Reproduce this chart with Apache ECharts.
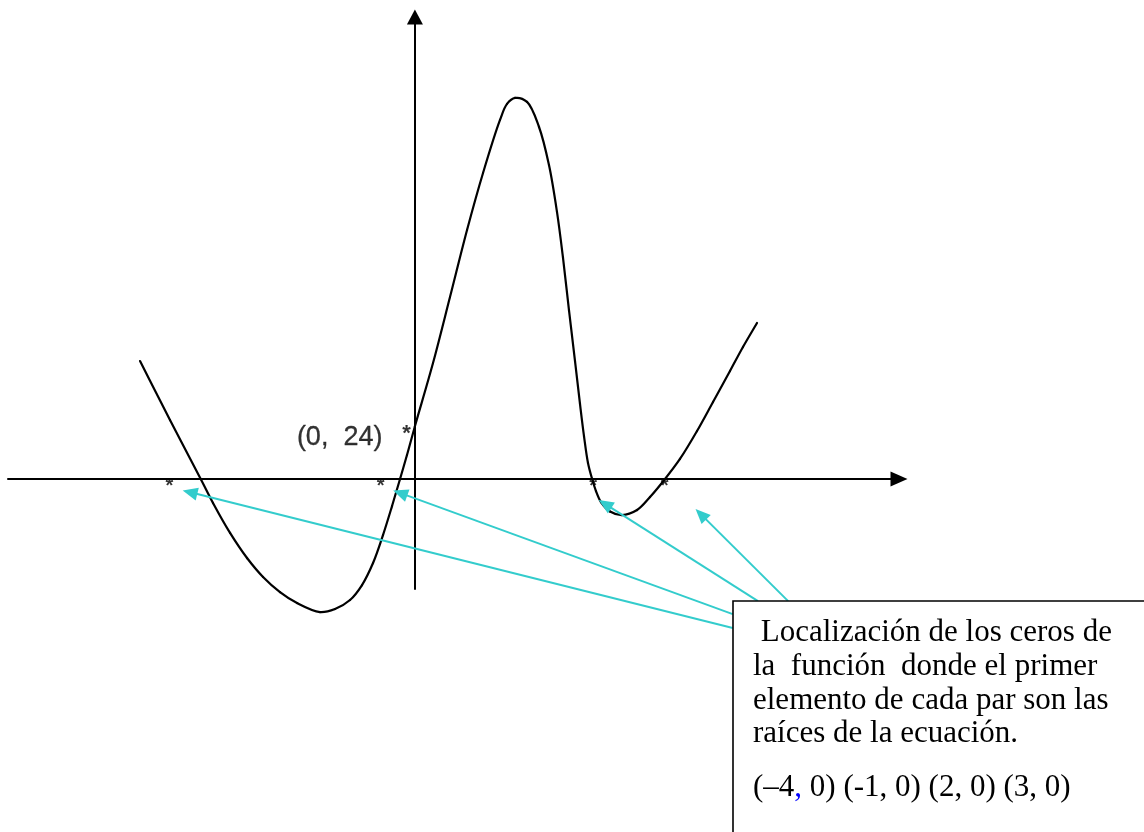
<!DOCTYPE html>
<html>
<head>
<meta charset="utf-8">
<script src="https://cdn.jsdelivr.net/npm/echarts@6/dist/echarts.min.js"></script>
<style>
  html, body { margin: 0; padding: 0; background: #ffffff; }
  #chart { width: 1144px; height: 832px; }
</style>
</head>
<body>
<div id="chart"></div>
<script>
// Hand-sketched curve of the quartic, traced as (x, y) pairs
const curveX = [-3.918, -3.491, -3.053, -2.878, -2.635, -2.393, -2.165, -1.923, -1.68, -1.353,
  -1.139, -0.925, -0.754, -0.597, -0.455, -0.326, -0.212, -0.113, 0, 0.258, 0.5, 0.743, 0.971,
  1.213, 1.313, 1.427, 1.598, 1.769, 1.911, 2.025, 2.111, 2.196, 2.282, 2.353, 2.41, 2.467,
  2.524, 2.581, 2.652, 2.781, 2.952, 3.166, 3.351, 3.565, 3.778, 4.021, 4.249, 4.491, 4.676, 4.876];
const curveY = [53.6, 26.8, 0, -10.9, -24.5, -35.9, -44.5, -51.4, -56.4, -60.5,
  -59.1, -55.0, -48.2, -38.2, -25.5, -12.3, 0, 10.9, 24, 52.7, 82.7, 113.2, 139.1,
  163.2, 170.5, 173.2, 171.4, 160.0, 142.7, 121.4, 100.5, 76.8, 53.6, 34.1, 19.5, 7.3,
  0.2, -5.5, -10.5, -14.8, -16.4, -14.1, -8.2, 0, 9.1, 21.8, 35.0, 49.1, 60.0, 70.9];

// Star marks drawn on the x axis where the zeros are located
const zeroMarkX = [-3.5, -0.49, 2.54, 3.56];

// y-intercept
const interceptPoint = [0, 24];
const interceptText = '(0,  24)';

// Pointer arrows from the note box towards the zeros: tail (x, y) and head (x, y)
const arrowTails = [[4.53, -67.7], [4.53, -61.4], [4.89, -55.5], [5.32, -55.5]];
const arrowHeads = [[-3.31, -5.2], [-0.31, -5.2], [2.62, -9.5], [4.0, -13.6]];

// Note text
const noteLines = [
  ' Localización de los ceros de',
  'la  función  donde el primer',
  'elemento de cada par son las',
  'raíces de la ecuación.'
];
const rootsLine = ['(–4', ',', ' 0) (-1, 0) (2, 0) (3, 0)'];

const chart = echarts.init(document.getElementById('chart'), null, { renderer: 'canvas' });

const X_MIN = -5.8, X_MAX = 6.9, Y_MIN = -50, Y_MAX = 210;
const INK = '#000000';
const ARROW = '#33CCCC';
const SERIF = '"Liberation Serif", "Times New Roman", serif';
const SANS = '"Liberation Sans", Arial, sans-serif';

// Centripetal Catmull-Rom control points for the segment p1 -> p2
function catmullRomControls(p0, p1, p2, p3) {
  const d = (a, b) => Math.max(Math.sqrt(Math.hypot(b[0] - a[0], b[1] - a[1])), 1e-6);
  const d1 = d(p0, p1), d2 = d(p1, p2), d3 = d(p2, p3);
  const c1 = [0, 1].map(k =>
    (d1 * d1 * p2[k] - d2 * d2 * p0[k] + (2 * d1 * d1 + 3 * d1 * d2 + d2 * d2) * p1[k]) /
    (3 * d1 * (d1 + d2)));
  const c2 = [0, 1].map(k =>
    (d3 * d3 * p1[k] - d2 * d2 * p3[k] + (2 * d3 * d3 + 3 * d3 * d2 + d2 * d2) * p2[k]) /
    (3 * d3 * (d3 + d2)));
  return [c1, c2];
}

function renderCurveSegment(params, api) {
  const i = params.dataIndex;
  const n = curveX.length;
  if (i >= n - 1) return null;
  const pt = j => api.coord([curveX[j], curveY[j]]);
  const p1 = pt(i), p2 = pt(i + 1);
  const p0 = i > 0 ? pt(i - 1) : [2 * p1[0] - p2[0], 2 * p1[1] - p2[1]];
  const p3 = i + 2 < n ? pt(i + 2) : [2 * p2[0] - p1[0], 2 * p2[1] - p1[1]];
  const [c1, c2] = catmullRomControls(p0, p1, p2, p3);
  return {
    type: 'bezierCurve',
    shape: { x1: p1[0], y1: p1[1], cpx1: c1[0], cpy1: c1[1], cpx2: c2[0], cpy2: c2[1], x2: p2[0], y2: p2[1] },
    style: { stroke: INK, lineWidth: 2.2, fill: null, lineCap: 'round' }
  };
}

function renderPointer(params, api) {
  const tail = api.coord([api.value(0), api.value(1)]);
  const head = api.coord([api.value(2), api.value(3)]);
  const dx = head[0] - tail[0], dy = head[1] - tail[1];
  const len = Math.hypot(dx, dy);
  const ux = dx / len, uy = dy / len;
  const headLen = 15, headHalf = 6.5;
  const bx = head[0] - ux * headLen, by = head[1] - uy * headLen;
  return {
    type: 'group',
    children: [
      {
        type: 'line',
        shape: { x1: tail[0], y1: tail[1], x2: bx + ux * 2, y2: by + uy * 2 },
        style: { stroke: ARROW, lineWidth: 2 }
      },
      {
        type: 'polygon',
        shape: { points: [head, [bx - uy * headHalf, by + ux * headHalf], [bx + uy * headHalf, by - ux * headHalf]] },
        style: { fill: ARROW, stroke: null }
      }
    ]
  };
}

const axisCommon = {
  type: 'value',
  axisTick: { show: false },
  axisLabel: { show: false },
  splitLine: { show: false },
  axisLine: {
    show: true,
    onZero: true,
    symbol: ['none', 'triangle'],
    lineStyle: { color: INK, width: 2 }
  }
};

const noteLeft = 753;
const noteSize = 31;
// text boxes are bottom-aligned; baseline sits about 0.16 em above the box bottom
const noteBaselines = [643, 677, 711, 744.5];
const rootsBaseline = 798;
const baselineShift = 5;

const noteGraphics = [
  {
    type: 'rect',
    shape: { x: 733, y: 601, width: 430, height: 260 },
    style: { fill: '#ffffff', stroke: INK, lineWidth: 1.6 },
    z: 10
  }
].concat(noteLines.map((t, i) => ({
  type: 'text',
  x: noteLeft,
  y: noteBaselines[i] + baselineShift,
  style: {
    text: t,
    font: noteSize + 'px ' + SERIF,
    fill: INK,
    verticalAlign: 'bottom'
  },
  z: 11
}))).concat([{
  type: 'text',
  x: noteLeft,
  y: rootsBaseline + baselineShift,
  style: {
    text: rootsLine[0] + '{c|' + rootsLine[1] + '}' + rootsLine[2],
    font: noteSize + 'px ' + SERIF,
    fill: INK,
    verticalAlign: 'bottom',
    rich: { c: { fill: '#0000FF', font: noteSize + 'px ' + SERIF } }
  },
  z: 11
}]);

const starLabel = (size, offset) => ({
  show: true, position: 'inside', formatter: '*',
  fontFamily: SANS, fontSize: size, fontWeight: 'bold', color: INK,
  textBorderWidth: 0, offset: offset
});

chart.setOption({
  animation: false,
  backgroundColor: '#ffffff',
  grid: { left: 8, top: 17, width: 891, height: 572, containLabel: false, outerBoundsMode: 'none' },
  xAxis: Object.assign({}, axisCommon, {
    min: X_MIN, max: X_MAX,
    axisLine: Object.assign({}, axisCommon.axisLine, { symbolSize: [15, 17] })
  }),
  yAxis: Object.assign({}, axisCommon, {
    min: Y_MIN, max: Y_MAX,
    axisLine: Object.assign({}, axisCommon.axisLine, { symbolSize: [16, 15] })
  }),
  series: [
    {
      name: 'f(x)',
      type: 'custom',
      coordinateSystem: 'cartesian2d',
      data: curveX.map((x, i) => [x, curveY[i]]),
      encode: { x: 0, y: 1 },
      renderItem: renderCurveSegment,
      clip: false,
      silent: true,
      z: 3
    },
    {
      name: 'zeros',
      type: 'scatter',
      data: zeroMarkX.map(x => [x, 0]),
      symbolSize: 1,
      itemStyle: { color: 'rgba(0,0,0,0)' },
      label: starLabel(20, [0, 7]),
      z: 4
    },
    {
      name: 'intercept',
      type: 'scatter',
      data: [interceptPoint],
      symbolSize: 1,
      itemStyle: { color: 'rgba(0,0,0,0)' },
      label: {
        show: true, position: 'left', distance: 32, formatter: interceptText,
        fontFamily: SANS, fontSize: 27, color: INK,
        textBorderColor: INK, textBorderWidth: 0.3, offset: [0, 11]
      },
      z: 4
    },
    {
      name: 'intercept mark',
      type: 'scatter',
      data: [interceptPoint],
      symbolSize: 1,
      itemStyle: { color: 'rgba(0,0,0,0)' },
      label: starLabel(22, [-8.5, 7.5]),
      z: 4
    },
    {
      name: 'pointers',
      type: 'custom',
      coordinateSystem: 'cartesian2d',
      data: arrowTails.map((t, i) => [t[0], t[1], arrowHeads[i][0], arrowHeads[i][1]]),
      encode: { x: [0, 2], y: [1, 3] },
      renderItem: renderPointer,
      clip: false,
      silent: true,
      z: 5
    }
  ],
  graphic: noteGraphics
});
</script>
</body>
</html>
